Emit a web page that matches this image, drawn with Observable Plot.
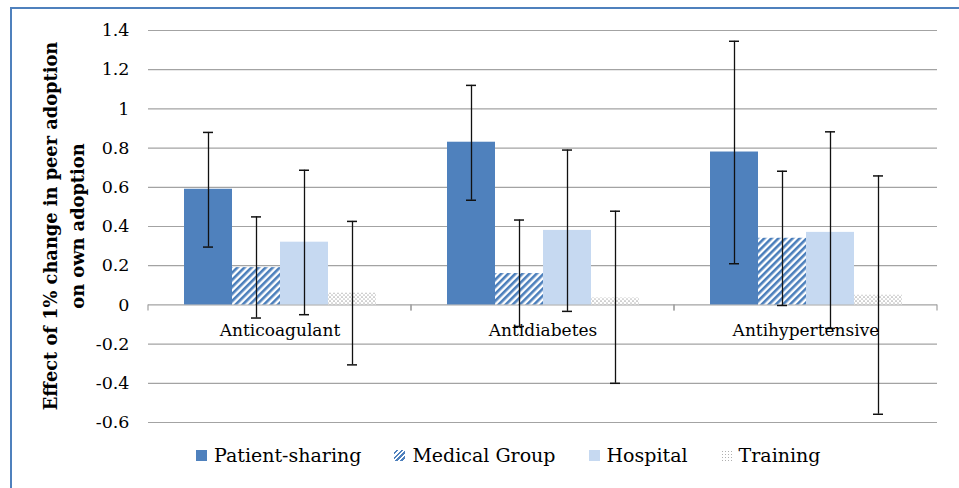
<!DOCTYPE html>
<html>
<head>
<meta charset="utf-8">
<script src="https://cdn.jsdelivr.net/npm/d3@7"></script>
<script src="https://cdn.jsdelivr.net/npm/@observablehq/plot@0.6"></script>
<style>
  html, body { margin: 0; padding: 0; background: #fff; }
  body { width: 959px; height: 488px; position: relative; overflow: hidden; font-family: "DejaVu Serif", serif; }
  #frame { position: absolute; left: 10px; top: 7px; width: 1000px; height: 520px; border: 2px solid #4f81bd; box-sizing: border-box; }
  #chart { position: absolute; left: 0; top: 0; }
  #legend { position: absolute; left: 196px; top: 444px; display: flex; align-items: center; font-size: 19px; color: #000; white-space: nowrap; }
  .item { display: flex; align-items: center; margin-right: 33px; }
  .sw { width: 11px; height: 11px; margin-right: 7px; }
</style>
</head>
<body>
<div id="frame"></div>
<div id="chart"></div>
<div id="legend"></div>
<script>
// ---- data ----
const categories = ["Anticoagulant", "Antidiabetes", "Antihypertensive"];
const series = ["Patient-sharing", "Medical Group", "Hospital", "Training"];

const patientSharing = [0.59, 0.83, 0.78];
const medicalGroup   = [0.19, 0.16, 0.34];
const hospital       = [0.32, 0.38, 0.37];
const training       = [0.06, 0.035, 0.05];

const patientSharingHi = [0.88, 1.12, 1.345];
const patientSharingLo = [0.295, 0.534, 0.21];
const medicalGroupHi   = [0.449, 0.433, 0.682];
const medicalGroupLo   = [-0.067, -0.11, -0.003];
const hospitalHi       = [0.687, 0.79, 0.883];
const hospitalLo       = [-0.05, -0.033, -0.12];
const trainingHi       = [0.426, 0.478, 0.658];
const trainingLo       = [-0.306, -0.40, -0.558];

const yTicks      = [-0.6, -0.4, -0.2, 0, 0.2, 0.4, 0.6, 0.8, 1, 1.2, 1.4];
const yTickLabels = ["-0.6", "-0.4", "-0.2", "0", "0.2", "0.4", "0.6", "0.8", "1", "1.2", "1.4"];
const yTitle = ["Effect of 1% change in peer adoption", "on own adoption"];

// ---- styles ----
const fills = ["#4f81bd", "url(#hatch)", "#c6d9f1", "url(#dots)"];
const swatchCss = [
  "background:#4f81bd",
  "background:repeating-linear-gradient(135deg,#fff 0 1.6px,#4f81bd 1.6px 3.4px)",
  "background:#c6d9f1",
  "background:radial-gradient(circle,#b0b0b0 0.8px,transparent 1px) 0 0/3px 3px"
];

const valueSets = [patientSharing, medicalGroup, hospital, training];
const hiSets = [patientSharingHi, medicalGroupHi, hospitalHi, trainingHi];
const loSets = [patientSharingLo, medicalGroupLo, hospitalLo, trainingLo];

const rows = [];
categories.forEach((c, ci) => {
  series.forEach((s, si) => {
    rows.push({cat: c, series: s, value: valueSets[si][ci], hi: hiSets[si][ci], lo: loSets[si][ci]});
  });
});

function sepTicks(index, scales, values, dimensions) {
  const g = document.createElementNS("http://www.w3.org/2000/svg", "g");
  const [x0, x1] = scales.x.range();
  const y0 = scales.y(0);
  for (const xv of [x0, x1]) {
    const l = document.createElementNS("http://www.w3.org/2000/svg", "line");
    l.setAttribute("x1", xv); l.setAttribute("x2", xv);
    l.setAttribute("y1", y0); l.setAttribute("y2", y0 + 6);
    l.setAttribute("stroke", "#a0a0a0"); l.setAttribute("stroke-width", 1.2);
    g.appendChild(l);
  }
  return g;
}

const svg = Plot.plot({
  width: 959,
  height: 440,
  marginLeft: 147,
  marginRight: 21,
  marginTop: 30,
  marginBottom: 18,
  style: {fontFamily: "DejaVu Serif, serif", fontSize: "17.5px", color: "#000", background: "transparent", overflow: "visible"},
  fx: {domain: categories, padding: 0, axis: null},
  x: {domain: series, paddingInner: 0, paddingOuter: 0.73, axis: null},
  y: {domain: [-0.6, 1.4], ticks: yTicks, tickFormat: (d) => yTickLabels[yTicks.indexOf(d)], tickSize: 0, tickPadding: 19, label: null},
  color: {domain: series, range: fills},
  marks: [
    Plot.ruleY(yTicks, {stroke: "#a3a3a3", strokeWidth: 1.2}),
    sepTicks,
    Plot.barY(rows, {fx: "cat", x: "series", y: "value", fill: "series"}),
    Plot.ruleX(rows, {fx: "cat", x: "series", y1: "lo", y2: "hi", stroke: "#111", strokeWidth: 1.3}),
    Plot.tickY(rows, {fx: "cat", x: "series", y: "hi", stroke: "#111", strokeWidth: 1.5, insetLeft: 19, insetRight: 19}),
    Plot.tickY(rows, {fx: "cat", x: "series", y: "lo", stroke: "#111", strokeWidth: 1.5, insetLeft: 19, insetRight: 19}),
    Plot.text(categories, {fx: (d) => d, text: (d) => d, y: 0, dy: 26, fontSize: 17, fill: "#000"})
  ]
});

// patterns
const defs = d3.select(svg).insert("defs", ":first-child");
const hatch = defs.append("pattern").attr("id", "hatch").attr("patternUnits", "userSpaceOnUse")
  .attr("width", 5).attr("height", 5).attr("patternTransform", "rotate(45)");
hatch.append("rect").attr("width", 5).attr("height", 5).attr("fill", "#fff");
hatch.append("rect").attr("width", 2.6).attr("height", 5).attr("fill", "#4a7ebb");
const dots = defs.append("pattern").attr("id", "dots").attr("patternUnits", "userSpaceOnUse")
  .attr("width", 4).attr("height", 4);
dots.append("rect").attr("width", 4).attr("height", 4).attr("fill", "#fff");
dots.append("circle").attr("cx", 1).attr("cy", 1).attr("r", 0.85).attr("fill", "#aaaaaa");
dots.append("circle").attr("cx", 3).attr("cy", 3).attr("r", 0.85).attr("fill", "#bbbbbb");

// y-axis title
const t = d3.select(svg).append("text")
  .attr("transform", "translate(0,226) rotate(-90)")
  .attr("text-anchor", "middle")
  .attr("font-family", "DejaVu Serif, serif")
  .attr("font-weight", "bold")
  .attr("font-size", 17.8)
  .attr("fill", "#000");
t.append("tspan").attr("x", 0).attr("y", 57).text(yTitle[0]);
t.append("tspan").attr("x", 0).attr("y", 84).text(yTitle[1]);

document.getElementById("chart").appendChild(svg);

// legend
const legend = document.getElementById("legend");
series.forEach((s, i) => {
  const item = document.createElement("div");
  item.className = "item";
  const sw = document.createElement("span");
  sw.className = "sw";
  sw.style.cssText = swatchCss[i];
  const lab = document.createElement("span");
  lab.textContent = s;
  item.appendChild(sw); item.appendChild(lab);
  legend.appendChild(item);
});
</script>
</body>
</html>
